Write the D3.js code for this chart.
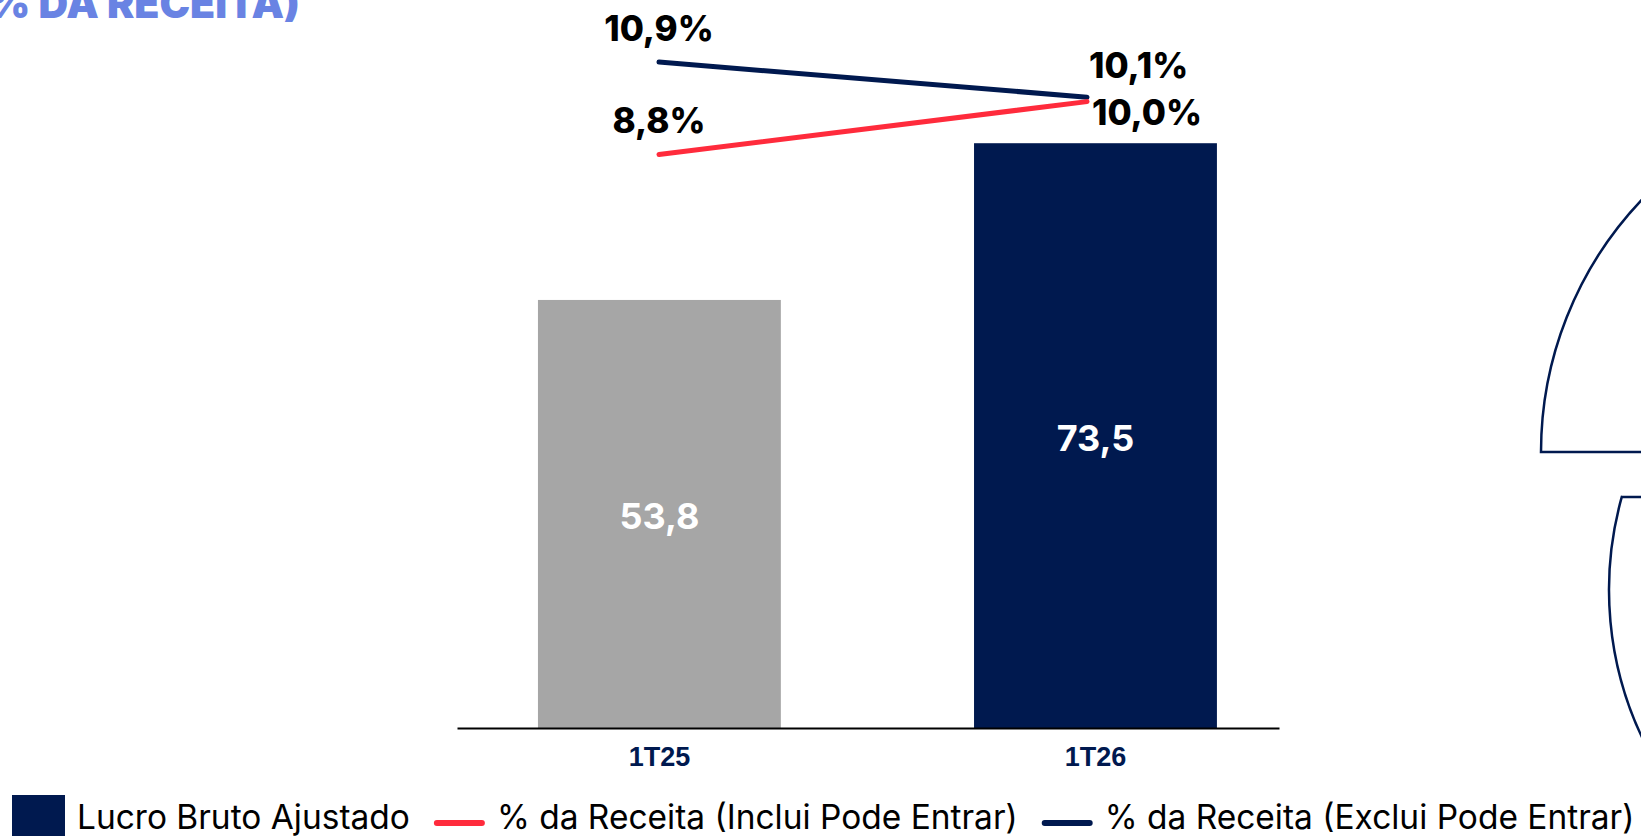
<!DOCTYPE html>
<html>
<head>
<meta charset="utf-8">
<script src="https://cdn.jsdelivr.net/npm/d3@7"></script>
<style>
  body { margin: 0; background: #fff; }
  svg { display: block; }
</style>
</head>
<body>
<div id="chart"></div>
<script>
/* Chart data. */
const categories = ["1T25", "1T26"];
const lucroBruto = [53.8, 73.5];
const margemInclui = [8.8, 10.0];
const margemExclui = [10.9, 10.1];
const legendLabels = [
  "Lucro Bruto Ajustado",
  "% da Receita (Inclui Pode Entrar)",
  "% da Receita (Exclui Pode Entrar)"
];
const titleText = "% DA RECEITA)";

/* Global chart parameters. */
const chartParams = {
  width: 1641,
  height: 836,
  baseline: 728,
  axisExtent: [457, 1279],
  lineExtent: [659, 1087],
  legendTextWidth: 1384
};

const navy = "#00194F";
const red = "#FF2B3C";
const gray = "#A6A6A6";
const titleColor = "#6983E3";

/* Brazilian number formatting: decimal comma. */
const ptBR = d3.formatLocale({ decimal: ",", thousands: ".", grouping: [3], currency: ["R$", ""] });
const fmt = ptBR.format(".1f");

const svg = d3.select("#chart")
  .append("svg")
  .attr("width", chartParams.width)
  .attr("height", chartParams.height);

/* Scales. */
const x = d3.scaleBand()
  .domain(categories)
  .range(chartParams.axisExtent)
  .paddingInner(0.443)
  .paddingOuter(0.164)
  .align(0.566);

const xLine = d3.scalePoint()
  .domain(categories)
  .range(chartParams.lineExtent);

const y = d3.scaleLinear()
  .domain([0, 91.5])
  .range([chartParams.baseline, 0]);

const y2 = d3.scaleLinear()
  .domain([-4.24, 12.31])
  .range([chartParams.baseline, 0]);

drawDecorations();
drawTitle();
drawBars();
drawAxis();
drawLines();
drawLegend();

// ---------------- Helper functions ---------------- //

/* Outline shapes cut off at the right edge. */
function drawDecorations() {
  const deco = svg.append("g")
    .attr("fill", "none")
    .attr("stroke", navy)
    .attr("stroke-width", 2.5);

  const quarter = d3.arc()
    .innerRadius(0)
    .outerRadius(366)
    .startAngle(-Math.PI / 2)
    .endAngle(0);
  deco.append("path")
    .attr("transform", "translate(1907,452)")
    .attr("d", quarter());

  const p = d3.path();
  p.moveTo(1700, 497);
  p.lineTo(1622, 497);
  p.arc(1954, 590, 345, Math.PI + Math.atan2(93, 332), 1.9, true);
  deco.append("path").attr("d", p.toString());
}

function drawTitle() {
  svg.append("text")
    .attr("x", 300)
    .attr("y", 18)
    .attr("text-anchor", "end")
    .attr("font-family", "Inter, 'Open Sans', sans-serif")
    .attr("font-weight", 900)
    .attr("font-size", 41)
    .attr("fill", titleColor)
    .text(titleText);
}

function drawBars() {
  const bars = svg.append("g");
  bars.selectAll("rect")
    .data(lucroBruto)
    .join("rect")
    .attr("x", (d, i) => x(categories[i]))
    .attr("y", d => y(d))
    .attr("width", x.bandwidth())
    .attr("height", d => y(0) - y(d))
    .attr("fill", (d, i) => i === 0 ? gray : navy);

  bars.selectAll("text")
    .data(lucroBruto)
    .join("text")
    .attr("x", (d, i) => x(categories[i]) + x.bandwidth() / 2)
    .attr("y", d => (y(d) + y(0)) / 2 + 15)
    .attr("text-anchor", "middle")
    .attr("font-family", "Inter, sans-serif")
    .attr("font-weight", 700)
    .attr("font-size", 36)
    .attr("fill", "#fff")
    .text(d => fmt(d));
}

function drawAxis() {
  const axis = svg.append("g")
    .attr("transform", "translate(0," + chartParams.baseline + ")")
    .call(d3.axisBottom(x).tickSize(0).tickSizeOuter(0).tickPadding(19));

  axis.select(".domain")
    .attr("stroke", "#000")
    .attr("stroke-width", 2);
  axis.selectAll(".tick text")
    .attr("font-family", "'Liberation Sans', Arial, sans-serif")
    .attr("font-weight", 700)
    .attr("font-size", 27)
    .attr("fill", navy);
}

function drawLines() {
  const series = [
    { values: margemExclui, color: navy, endDx: 2, endDy: -19 },
    { values: margemInclui, color: red, endDx: 5, endDy: 23 }
  ];

  const line = d3.line()
    .x((d, i) => xLine(categories[i]))
    .y(d => y2(d));

  series.forEach(s => {
    svg.append("path")
      .datum(s.values)
      .attr("d", line)
      .attr("fill", "none")
      .attr("stroke", s.color)
      .attr("stroke-width", 5)
      .attr("stroke-linecap", "round");
  });

  series.forEach(s => {
    svg.append("g").selectAll("text")
      .data(s.values)
      .join("text")
      .attr("x", (d, i) => xLine(categories[i]) + (i === 0 ? 0 : s.endDx))
      .attr("y", (d, i) => y2(d) + (i === 0 ? -21 : s.endDy))
      .attr("text-anchor", (d, i) => i === 0 ? "middle" : "start")
      .attr("font-family", "Inter, sans-serif")
      .attr("font-weight", 800)
      .attr("font-size", 35)
      .attr("fill", "#000")
      .text(d => fmt(d) + "%");
  });
}

/* Legend along the bottom, laid out from measured text widths. */
function drawLegend() {
  const legend = svg.append("g")
    .attr("transform", "translate(0,829)");
  const markers = [
    { type: "rect", color: navy },
    { type: "line", color: red },
    { type: "line", color: navy }
  ];

  /* Size the font so the three labels fill the same width as in the slide. */
  const probe = legend.append("text")
    .attr("font-family", "Inter, sans-serif")
    .attr("font-size", 34);
  let total = 0;
  legendLabels.forEach(label => {
    probe.text(label);
    total += probe.node().getComputedTextLength();
  });
  probe.remove();
  const fontSize = 34 * chartParams.legendTextWidth / total;

  let cx = 12;
  legendLabels.forEach((label, i) => {
    const m = markers[i];
    if (m.type === "rect") {
      legend.append("rect")
        .attr("x", cx)
        .attr("y", -34)
        .attr("width", 53)
        .attr("height", 41)
        .attr("fill", m.color);
      cx += 53 + 12;
    } else {
      legend.append("line")
        .attr("x1", cx + 3)
        .attr("x2", cx + 48)
        .attr("y1", -6)
        .attr("y2", -6)
        .attr("stroke", m.color)
        .attr("stroke-width", 6)
        .attr("stroke-linecap", "round");
      cx += 51 + 12;
    }
    const t = legend.append("text")
      .attr("x", cx)
      .attr("y", 0)
      .attr("font-family", "Inter, sans-serif")
      .attr("font-size", fontSize)
      .attr("fill", "#000")
      .text(label);
    cx += t.node().getComputedTextLength() + 24;
  });
}
</script>
</body>
</html>
